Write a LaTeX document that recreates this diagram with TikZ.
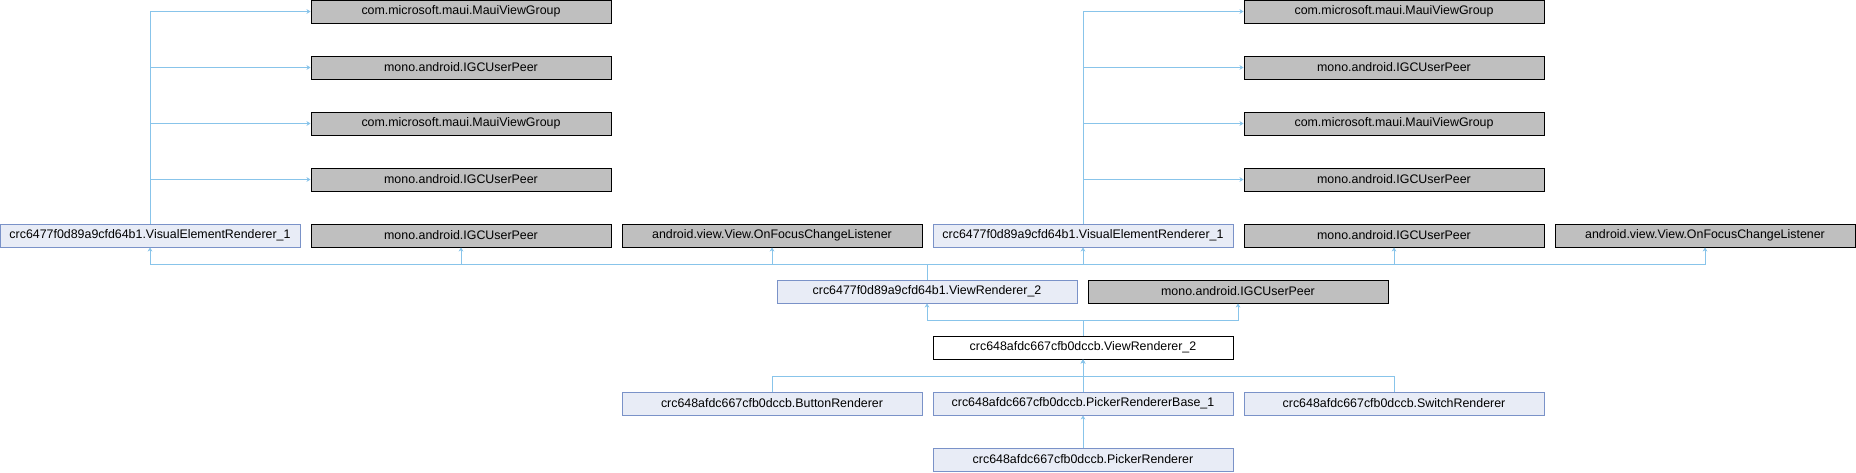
\documentclass[tikz,border=0pt]{standalone}
\usepackage{fontspec}
\setmainfont{Liberation Sans}
\usetikzlibrary{arrows.meta}

\definecolor{edgeblue}{RGB}{136,196,234}
\definecolor{docfill}{RGB}{232,236,246}
\definecolor{docline}{RGB}{122,146,200}
\definecolor{extfill}{RGB}{191,191,191}

\tikzset{
    docnode/.style={draw=docline, fill=docfill, line width=0.75pt,
        minimum width=225pt, minimum height=17.25pt, inner sep=0pt,
        font=\fontsize{9.3}{11}\selectfont},
    extnode/.style={docnode, draw=black, fill=extfill},
    curnode/.style={docnode, draw=black, fill=white},
    link/.style={->, draw=edgeblue, line width=0.75pt}
}

\begin{document}
\begin{tikzpicture}[x=0.75pt, y=-0.75pt, >={Stealth[length=3pt,width=3.6pt]}]
    \useasboundingbox (0,0) rectangle (1856,472);

    % Parents of the first VisualElementRenderer_1
    \node[extnode] (MVGa) at (461, 11.5) {com.microsoft.maui.MauiViewGroup};
    \node[extnode] (IGCa) at (461, 67.5) {mono.android.IGCUserPeer};
    \node[extnode] (MVGb) at (461, 123.5) {com.microsoft.maui.MauiViewGroup};
    \node[extnode] (IGCb) at (461, 179.5) {mono.android.IGCUserPeer};
    % Parents of the second VisualElementRenderer_1
    \node[extnode] (MVGc) at (1394, 11.5) {com.microsoft.maui.MauiViewGroup};
    \node[extnode] (IGCg) at (1394, 67.5) {mono.android.IGCUserPeer};
    \node[extnode] (MVGd) at (1394, 123.5) {com.microsoft.maui.MauiViewGroup};
    \node[extnode] (IGCh) at (1394, 179.5) {mono.android.IGCUserPeer};

    % Parents of crc6477f0d89a9cfd64b1.ViewRenderer_2
    \node[docnode] (VERa) at (150, 235.5) {crc6477f0d89a9cfd64b1.VisualElementRenderer\_1};
    \node[extnode] (IGCc) at (461, 235.5) {mono.android.IGCUserPeer};
    \node[extnode] (OFCa) at (772, 235.5) {android.view.View.OnFocusChangeListener};
    \node[docnode] (VERb) at (1083, 235.5) {crc6477f0d89a9cfd64b1.VisualElementRenderer\_1};
    \node[extnode] (IGCd) at (1394, 235.5) {mono.android.IGCUserPeer};
    \node[extnode] (OFCb) at (1705, 235.5) {android.view.View.OnFocusChangeListener};

    % Parents of crc648afdc667cfb0dccb.ViewRenderer_2
    \node[docnode] (VRa) at (927, 291.5) {crc6477f0d89a9cfd64b1.ViewRenderer\_2};
    \node[extnode] (IGCe) at (1238, 291.5) {mono.android.IGCUserPeer};

    % The class itself
    \node[curnode] (VRb) at (1083, 347.5) {crc648afdc667cfb0dccb.ViewRenderer\_2};

    % Derived classes
    \node[docnode] (BR) at (772, 403.5) {crc648afdc667cfb0dccb.ButtonRenderer};
    \node[docnode] (PRB) at (1083, 403.5) {crc648afdc667cfb0dccb.PickerRendererBase\_1};
    \node[docnode] (SR) at (1394, 403.5) {crc648afdc667cfb0dccb.SwitchRenderer};
    \node[docnode] (PR) at (1083, 459.5) {crc648afdc667cfb0dccb.PickerRenderer};

    % Bus points
    \coordinate (busA) at (927, 264);
    \coordinate (busB) at (1083, 320);
    \coordinate (busC) at (1083, 376);

    % Arrows showing inheritance
    \draw[link] (VERa.north) |- (MVGa.west);
    \draw[link] (VERa.north) |- (IGCa.west);
    \draw[link] (VERa.north) |- (MVGb.west);
    \draw[link] (VERa.north) |- (IGCb.west);
    \draw[link] (VERb.north) |- (MVGc.west);
    \draw[link] (VERb.north) |- (IGCg.west);
    \draw[link] (VERb.north) |- (MVGd.west);
    \draw[link] (VERb.north) |- (IGCh.west);

    \draw[link] (VRa.north) -- (busA) -| (VERa.south);
    \draw[link] (VRa.north) -- (busA) -| (IGCc.south);
    \draw[link] (VRa.north) -- (busA) -| (OFCa.south);
    \draw[link] (VRa.north) -- (busA) -| (VERb.south);
    \draw[link] (VRa.north) -- (busA) -| (IGCd.south);
    \draw[link] (VRa.north) -- (busA) -| (OFCb.south);

    \draw[link] (VRb.north) -- (busB) -| (VRa.south);
    \draw[link] (VRb.north) -- (busB) -| (IGCe.south);

    \draw[link] (BR.north) |- (busC) -- (VRb.south);
    \draw[link] (PRB.north) -- (VRb.south);
    \draw[link] (SR.north) |- (busC) -- (VRb.south);
    \draw[link] (PR.north) -- (PRB.south);
\end{tikzpicture}
\end{document}
